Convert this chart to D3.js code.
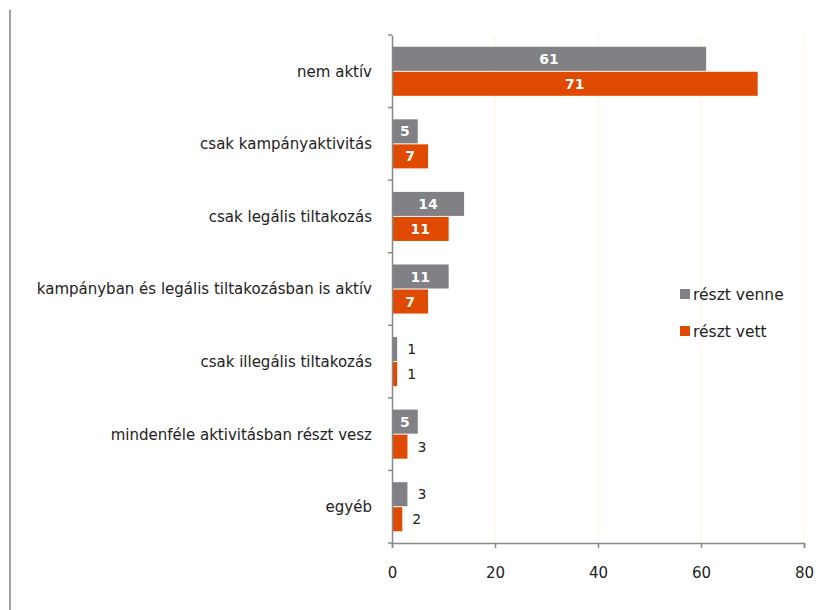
<!DOCTYPE html>
<html><head><meta charset="utf-8">
<script src="https://cdn.jsdelivr.net/npm/d3@7"></script>
<style>body{margin:0;background:#fff}svg{display:block}</style>
</head><body>
<script>
const categories = ["nem aktív","csak kampányaktivitás","csak legális tiltakozás","kampányban és legális tiltakozásban is aktív","csak illegális tiltakozás","mindenféle aktivitásban részt vesz","egyéb"];
const seriesNames = ["részt venne","részt vett"];
const venne = [61,5,14,11,1,5,3];
const vett = [71,7,11,7,1,3,2];
const xTicks = [0,20,40,60,80];
const colors = ["#808085","#e04a00"];

const W=826,H=610;
const svg=d3.select("body").append("svg").attr("width",W).attr("height",H);
svg.append("line").attr("x1",10).attr("x2",10).attr("y1",10).attr("y2",H).attr("stroke","#a0a0a0").attr("stroke-width",2);

const x=d3.scaleLinear().domain([0,80]).range([392,804]);
const y=d3.scaleBand().domain(categories).range([35,543]);
const inner=d3.scaleBand().domain(seriesNames).range([0,y.bandwidth()]).paddingInner(0.04).paddingOuter(0.47);
const font="'DejaVu Sans', sans-serif";

// gridlines
svg.append("g").selectAll("line").data(xTicks.slice(1)).join("line")
 .attr("x1",d=>x(d)).attr("x2",d=>x(d)).attr("y1",35).attr("y2",543)
 .attr("stroke","#fdf3d8").attr("stroke-width",1);

const data=categories.map((c,i)=>({c,vals:[venne[i],vett[i]]}));
const g=svg.append("g").selectAll("g").data(data).join("g").attr("transform",d=>`translate(0,${y(d.c)})`);
g.selectAll("rect").data(d=>d.vals.map((v,j)=>({v,j}))).join("rect")
 .attr("x",x(0)).attr("y",d=>inner(seriesNames[d.j])).attr("width",d=>x(d.v)-x(0)).attr("height",inner.bandwidth())
 .attr("fill",d=>colors[d.j]);
const inside=d=>(x(d.v)-x(0))>=20;
g.selectAll("text").data(d=>d.vals.map((v,j)=>({v,j}))).join("text")
 .attr("x",d=>inside(d)? x(0)+(x(d.v)-x(0))/2 : x(d.v)+10)
 .attr("y",d=>inner(seriesNames[d.j])+inner.bandwidth()/2)
 .attr("dy","0.36em")
 .attr("text-anchor",d=>inside(d)?"middle":"start")
 .attr("fill",d=>inside(d)?"#fff":"#222")
 .attr("font-weight",d=>inside(d)?"bold":"normal")
 .attr("font-family",font).attr("font-size",14)
 .text(d=>d.v);

// axes
const yAx=svg.append("g").attr("transform",`translate(${x(0)},0)`)
 .call(d3.axisLeft(y).tickSize(0).tickFormat(""));
yAx.select(".domain").attr("stroke","#888").attr("stroke-width",1.5);
svg.append("g").selectAll("line").data(d3.range(categories.length+1)).join("line")
 .attr("x1",x(0)-4).attr("x2",x(0)).attr("y1",i=>35+i*y.step()).attr("y2",i=>35+i*y.step())
 .attr("stroke","#888").attr("stroke-width",1.5);
svg.append("g").selectAll("text").data(categories).join("text")
 .attr("x",372).attr("y",d=>y(d)+y.bandwidth()/2).attr("dy","0.36em").attr("text-anchor","end")
 .attr("font-family",font).attr("font-size",15).attr("fill","#222").text(d=>d);

const xAx=svg.append("g").attr("transform","translate(0,543)")
 .call(d3.axisBottom(x).tickValues(xTicks).tickSize(5).tickPadding(19));
xAx.select(".domain").attr("stroke","#888").attr("stroke-width",1.5);
xAx.selectAll(".tick line").attr("stroke","#888").attr("stroke-width",1.5);
xAx.selectAll("text").attr("font-family",font).attr("font-size",15).attr("fill","#222");

// legend
const lg=svg.append("g").selectAll("g").data(seriesNames).join("g").attr("transform",(d,i)=>`translate(680,${294+i*37})`);
lg.append("rect").attr("x",0).attr("y",-5).attr("width",10).attr("height",10).attr("fill",(d,i)=>colors[i]);
lg.append("text").attr("x",13).attr("dy","0.36em").attr("font-family",font).attr("font-size",15.5).attr("fill","#222").text(d=>d);
</script>
</body></html>
